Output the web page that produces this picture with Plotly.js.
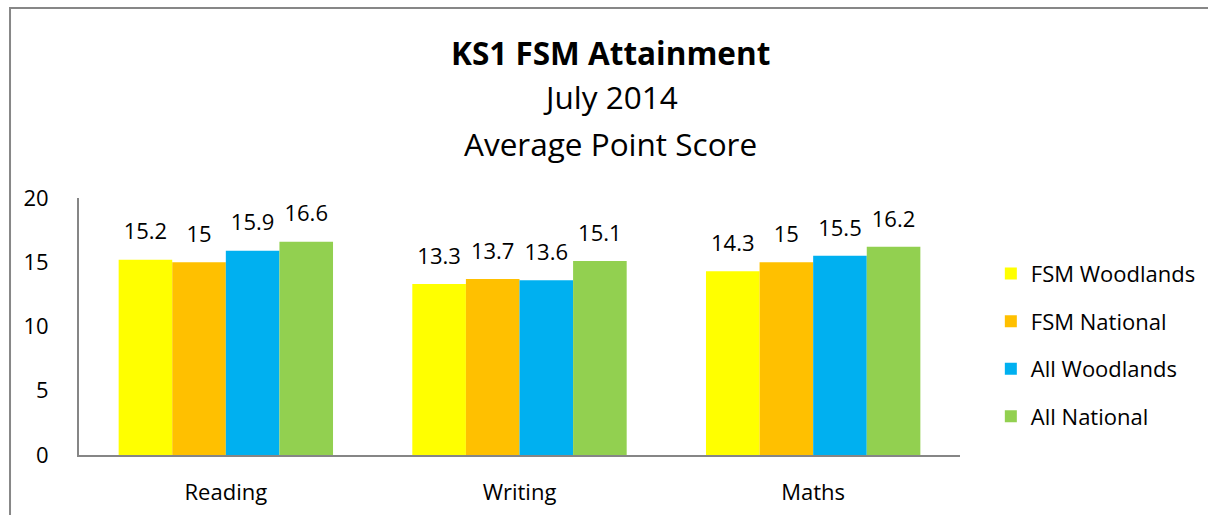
<!DOCTYPE html>
<html>
<head>
<meta charset="utf-8">
<script src="https://cdn.plot.ly/plotly-3.0.1.min.js"></script>
<style>
html,body{margin:0;padding:0;background:#fff;}
#chart{width:1208px;height:515px;}
</style>
</head>
<body>
<div id="chart"></div>
<script>
const categories = ["Reading", "Writing", "Maths"];
const seriesNames = ["FSM Woodlands", "FSM National", "All Woodlands", "All National"];
const fsmWoodlands = [15.2, 13.3, 14.3];
const fsmNational = [15, 13.7, 15];
const allWoodlands = [15.9, 13.6, 15.5];
const allNational = [16.6, 15.1, 16.2];
const seriesValues = [fsmWoodlands, fsmNational, allWoodlands, allNational];
const colors = ["#FFFF00", "#FFC000", "#00B0F0", "#92D050"];
const titleLines = ["<b>KS1 FSM Attainment</b>", "July 2014", "Average Point Score"];
const yTicks = [0, 5, 10, 15, 20];

const FONT = "'Open Sans', 'Noto Sans', sans-serif";

const bars = seriesValues.map((vals, i) => ({
  type: "bar",
  name: seriesNames[i],
  x: categories,
  y: vals,
  marker: {color: colors[i], line: {width: 0}},
  legendgroup: "g" + i,
  hoverinfo: "x+y+name"
}));

const labels = seriesValues.map((vals, i) => ({
  type: "scatter",
  mode: "markers+text",
  name: seriesNames[i] + " labels",
  x: categories,
  y: vals,
  text: vals.map(v => String(v)),
  textposition: "top center",
  textfont: {family: FONT, size: 22, color: "#000"},
  marker: {size: 22, opacity: 0, color: colors[i]},
  cliponaxis: false,
  showlegend: false,
  hoverinfo: "skip"
}));

const titleY = [1.568, 1.393, 1.214];
const titleSizes = [31.5, 31.5, 31.5];
const annotations = titleLines.map((t, i) => ({
  xref: "paper", yref: "paper",
  x: 0.603, y: titleY[i],
  xanchor: "center", yanchor: "middle",
  showarrow: false,
  text: t,
  font: {family: FONT, size: titleSizes[i], color: "#000"}
}));

const layout = {
  width: 1208, height: 515,
  margin: {l: 79, r: 248, t: 198, b: 60, pad: 0, autoexpand: false},
  paper_bgcolor: "#fff",
  plot_bgcolor: "#fff",
  barmode: "group",
  bargap: 0.27,
  bargroupgap: 0,
  scattermode: "group",
  scattergap: 0.27,
  font: {family: FONT, size: 22, color: "#000"},
  showlegend: true,
  legend: {
    x: 1.035, y: 0.787, xanchor: "left", yanchor: "top",
    font: {family: FONT, size: 22, color: "#000"},
    traceorder: "grouped",
    tracegroupgap: 16,
    bgcolor: "rgba(0,0,0,0)"
  },
  xaxis: {
    type: "category",
    showline: true, linecolor: "#868686", linewidth: 2,
    ticks: "", showgrid: false, zeroline: false,
    ticklabelstandoff: 17,
    tickfont: {family: FONT, size: 22, color: "#000"}
  },
  yaxis: {
    range: [0, 20],
    tickvals: yTicks,
    ticktext: yTicks.map(String),
    showline: true, linecolor: "#868686", linewidth: 2,
    ticks: "", showgrid: false, zeroline: false,
    ticklabelstandoff: 24,
    tickfont: {family: FONT, size: 22, color: "#000"}
  },
  annotations: annotations,
  shapes: [{
    type: "rect", xref: "paper", yref: "paper",
    x0: -0.0783, x1: 1.4, y0: -1, y1: 1.739,
    line: {color: "#878787", width: 2},
    fillcolor: "rgba(0,0,0,0)", layer: "below"
  }]
};

Plotly.newPlot("chart", bars.concat(labels), layout, {displayModeBar: false, staticPlot: true});
</script>
</body>
</html>
